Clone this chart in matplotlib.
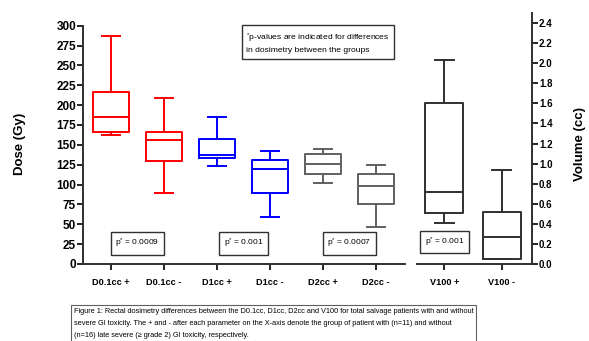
import matplotlib
matplotlib.use("Agg")
import matplotlib.pyplot as plt

plt.rcParams['font.family'] = ['Liberation Sans', 'DejaVu Sans']
plt.rcParams['mathtext.fontset'] = 'custom'
plt.rcParams['mathtext.rm'] = 'Liberation Sans'
plt.rcParams['mathtext.it'] = 'Liberation Sans'

# dose parameters (Gy), left axis
dose_labels = ['D0.1cc +', 'D0.1cc -', 'D1cc +', 'D1cc -', 'D2cc +', 'D2cc -']
dose_low = [162.5, 89.4, 123.4, 59.2, 102.4, 46.2]
dose_q1 = [166.7, 129.7, 133.0, 89.4, 113.7, 75.2]
dose_med = [185.0, 155.8, 137.0, 119.6, 126.3, 98.2]
dose_q3 = [216.6, 166.7, 157.8, 131.0, 138.2, 113.0]
dose_high = [287.0, 209.5, 185.0, 142.3, 144.8, 125.0]
dose_colors = ['#ff0000', '#ff0000', '#0000ff', '#0000ff', '#606060', '#606060']
dose_pvalues = ['0.0009', '0.001', '0.0007']

# V100 volume (cc), right axis
vol_labels = ['V100 +', 'V100 -']
vol_low = [0.41, 0.05]
vol_q1 = [0.51, 0.05]
vol_med = [0.72, 0.27]
vol_q3 = [1.60, 0.52]
vol_high = [2.03, 0.94]
vol_pvalue = '0.001'

W, H = 589, 341
fig = plt.figure(figsize=(W / 100, H / 100), dpi=100)

ax1 = fig.add_axes([83 / W, (H - 264) / H, (405 - 83) / W, (264 - 25.7) / H])
ax2 = fig.add_axes([417 / W, (H - 264) / H, (532 - 417) / W, (264 - 13) / H])


def make_stats(lo, q1, med, q3, hi):
    return [dict(whislo=a, q1=b, med=c, q3=d, whishi=e, fliers=[])
            for a, b, c, d, e in zip(lo, q1, med, q3, hi)]


stats = make_stats(dose_low, dose_q1, dose_med, dose_q3, dose_high)
pos = list(range(1, len(stats) + 1))
bp = ax1.bxp(stats, positions=pos, widths=0.68, showfliers=False)
for i, c in enumerate(dose_colors):
    for art in [bp['boxes'][i], bp['medians'][i],
                bp['whiskers'][2 * i], bp['whiskers'][2 * i + 1],
                bp['caps'][2 * i], bp['caps'][2 * i + 1]]:
        art.set_color(c)
        art.set_linewidth(1.4)

vstats = make_stats(vol_low, vol_q1, vol_med, vol_q3, vol_high)
bp2 = ax2.bxp(vstats, positions=[1, 2], widths=0.66, showfliers=False)
for key in ['boxes', 'medians', 'whiskers', 'caps']:
    for art in bp2[key]:
        art.set_color('#303030')
        art.set_linewidth(1.4)

# left axes styling
ax1.set_xlim(0.472, 6.55)
ax1.set_ylim(0, 300)
ax1.set_yticks(range(0, 301, 25))
ax1.set_xticks(pos)
ax1.set_xticklabels(dose_labels)
for s in ['top', 'right']:
    ax1.spines[s].set_visible(False)
for s in ['left', 'bottom']:
    ax1.spines[s].set_linewidth(1.4)
    ax1.spines[s].set_color('#303030')
ax1.tick_params(axis='y', length=4, width=1.2, labelsize=8.5, pad=1)
ax1.tick_params(axis='x', length=4, width=1.2, labelsize=6.6, pad=6)
for t in ax1.get_yticklabels() + ax1.get_xticklabels():
    t.set_fontweight('bold')

# right axes styling
ax2.set_xlim(0.524, 2.53)
ax2.set_ylim(0, 2.5)
ax2.set_yticks([i / 10 for i in range(0, 25, 2)])
ax2.set_yticklabels([f'{i / 10:.1f}' for i in range(0, 25, 2)])
ax2.set_xticks([1, 2])
ax2.set_xticklabels(vol_labels)
ax2.yaxis.tick_right()
for s in ['top', 'left']:
    ax2.spines[s].set_visible(False)
for s in ['right', 'bottom']:
    ax2.spines[s].set_linewidth(1.4)
    ax2.spines[s].set_color('#303030')
ax2.tick_params(axis='y', length=4, width=1.2, labelsize=7, pad=1)
ax2.tick_params(axis='x', length=4, width=1.2, labelsize=6.6, pad=6)
for t in ax2.get_yticklabels() + ax2.get_xticklabels():
    t.set_fontweight('bold')

fig.text(20 / W, 1 - 144 / H, 'Dose (Gy)', rotation=90, ha='center', va='center',
         fontsize=9.5, fontweight='bold')
fig.text(580 / W, 1 - 144 / H, 'Volume (cc)', rotation=90, ha='center', va='center',
         fontsize=9.5, fontweight='bold')

box_style = dict(boxstyle='square,pad=0.55', fc='white', ec='#303030', lw=1)
for k, p in enumerate(dose_pvalues):
    ax1.text(2 * k + 1.5, 26, 'p$^{*}$ = ' + p, ha='center', va='center',
             fontsize=6, bbox=box_style)
ax2.text(1.0, 26 / 300 * 2.5, 'p$^{*}$ = ' + vol_pvalue, ha='center', va='center',
         fontsize=6, bbox=box_style)

fig.text(246 / W, 1 - 43 / H,
         '$^{*}$p-values are indicated for differences\nin dosimetry between the groups',
         ha='left', va='center', fontsize=6.1, linespacing=1.45,
         bbox=dict(boxstyle='square,pad=0.5', fc='white', ec='#303030', lw=1))

caption = ('Figure 1: Rectal dosimetry differences between the D0.1cc, D1cc, D2cc and V100 '
           'for total salvage patients with and without\n'
           'severe GI toxicity. The + and - after each parameter on the X-axis denote the '
           'group of patient with (n=11) and without\n'
           '(n=16) late severe (\u2265 grade 2) GI toxicity, respectively.')
fig.text(74 / W, 1 - 308 / H, caption, ha='left', va='top', fontsize=5.3,
         linespacing=2.0,
         bbox=dict(boxstyle='square,pad=0.35', fc='white', ec='#606060', lw=0.8))

fig.savefig('out.png', dpi=100)
